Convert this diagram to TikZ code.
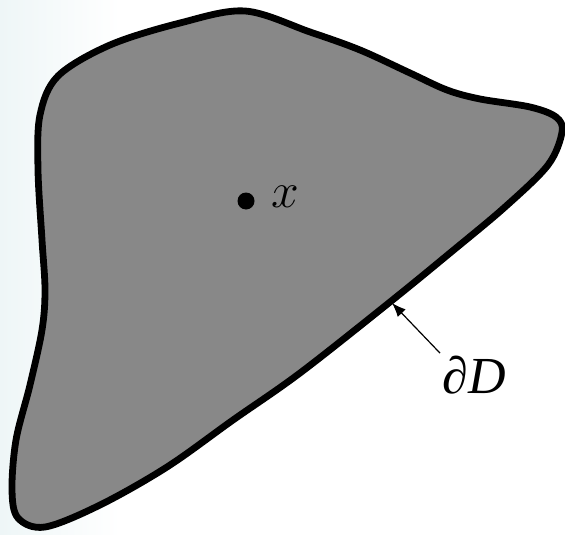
\documentclass[tikz,border=0pt]{standalone}
\usepackage{fontspec}
\setmainfont{Liberation Serif}
\usetikzlibrary{arrows.meta}
\definecolor{regiongray}{RGB}{136,136,136}
\definecolor{bgtint}{RGB}{238,246,247}

\begin{document}
\begin{tikzpicture}[x=0.5pt, y=-0.5pt,
    boundary/.style={draw=black, line width=3.4pt, line join=round, fill=regiongray},
    pointer/.style={-{Latex[length=7pt, width=5.5pt]}, line width=0.6pt}]
  \useasboundingbox (0,0) rectangle (565,534);
  % faint tint on the left edge
  \shade[left color=bgtint, right color=white] (0,0) rectangle (120,534);
  % Region D
  \draw[boundary] plot[smooth cycle, tension=0.55] coordinates {
    (245,11) (310,32) (360,50) (410,73) (447,90) (480,99) (530,107)
    (556,117) (562,132) (548,165) (505,207) (450,253) (390,302)
    (300,373) (233,420) (167,467) (100,505) (45,527) (18,518)
    (12,490) (16,440) (30,385) (42,330) (45,290) (42,240) (38,170)
    (40,115) (58,76) (110,45) (180,23)};
  % Point x
  \node[circle, fill=black, inner sep=0pt, minimum size=8.5pt] (pt) at (246,201) {};
  \node[font=\fontsize{31}{36}\selectfont, anchor=base west, inner sep=0pt]
    (xlabel) at (271,207) {$x$};
  % Boundary label
  \coordinate (bdtip) at (392,303);
  \node[font=\fontsize{26}{30}\selectfont, anchor=base west, inner sep=1pt]
    (bdlabel) at (440,393) {∂\textit{D}};
  \draw[pointer] (bdlabel.north west) -- (bdtip);
\end{tikzpicture}
\end{document}
